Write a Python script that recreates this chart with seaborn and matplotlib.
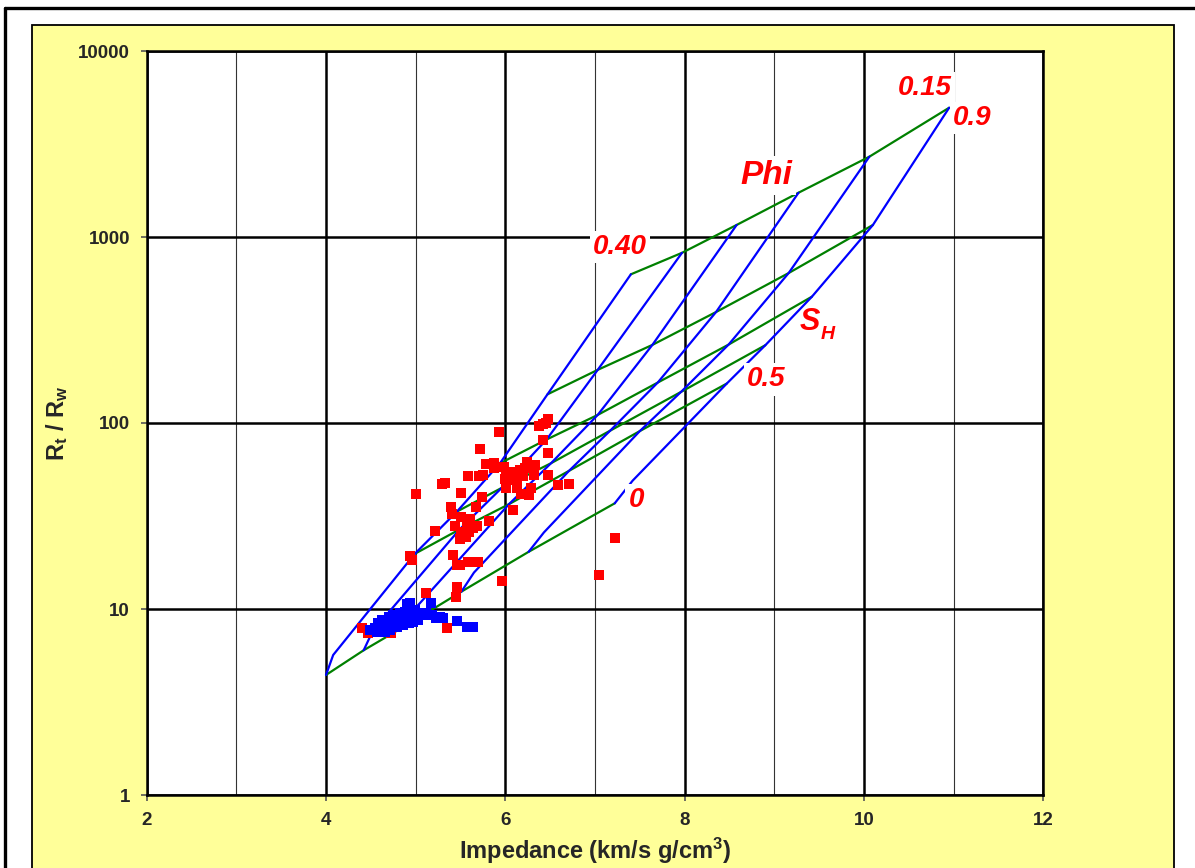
import matplotlib
matplotlib.use("Agg")
import matplotlib.pyplot as plt
from matplotlib.patches import Rectangle
from matplotlib.lines import Line2D
from matplotlib.ticker import FixedLocator, FixedFormatter, NullLocator, MultipleLocator
import pandas as pd
import seaborn as sns

# ---- model grid: porosity (blue) x hydrate saturation (green) ----
phi_values = [0.40, 0.35, 0.30, 0.25, 0.20, 0.15]
sh_rows = [0.0, 0.1, 0.5, 0.6, 0.7, 0.8, 0.9]
sh_curves = [0.0, 0.5, 0.6, 0.7, 0.8, 0.9]

# impedance (km/s g/cm3) at each node, one list per saturation, columns follow phi_values
imp_sh00 = [4.00, 4.42, 4.90, 5.51, 6.26, 7.22]
imp_sh01 = [4.08, 4.52, 5.02, 5.65, 6.43, 7.42]
imp_sh05 = [4.99, 5.49, 6.04, 6.71, 7.50, 8.47]
imp_sh06 = [5.46, 5.96, 6.51, 7.17, 7.96, 8.90]
imp_sh07 = [5.94, 6.46, 7.03, 7.70, 8.49, 9.42]
imp_sh08 = [6.47, 7.03, 7.64, 8.35, 9.16, 10.10]
imp_sh09 = [7.40, 7.97, 8.58, 9.27, 10.06, 10.95]

# Rt/Rw at each node
rr_sh00 = [4.42, 6.0, 8.2, 12.4, 20.3, 37.0]
rr_sh01 = [5.66, 7.6, 10.4, 15.7, 25.8, 49.0]
rr_sh05 = [19.8, 26.8, 36.6, 55.3, 90.5, 163.0]
rr_sh06 = [33.4, 44.8, 60.8, 91.0, 147.0, 262.0]
rr_sh07 = [60.7, 81.5, 110.5, 165.0, 264.0, 478.0]
rr_sh08 = [142.6, 193.0, 263.0, 395.0, 640.0, 1161.0]
rr_sh09 = [630.0, 822.0, 1161.0, 1730.0, 2703.0, 4955.0]

# ---- measured data ----
red_imp = [4.40, 4.47, 4.73, 4.84, 5.35, 4.94, 4.96, 5.00, 5.22, 5.29, 5.33, 5.39, 5.40,
           5.51, 5.44, 5.51, 5.57, 5.61, 5.68, 5.51, 5.59, 5.49, 5.56, 5.64, 5.67, 5.74,
           5.72, 5.58, 5.71, 5.75, 5.78, 5.87, 5.87, 5.82, 5.42, 5.46, 5.49, 5.58, 5.69,
           5.46, 5.45, 5.12, 6.08, 5.96, 5.93, 5.98, 6.01, 6.06, 6.11, 6.16, 6.22, 6.24,
           6.33, 6.32, 6.00, 6.05, 6.13, 6.20, 6.01, 6.13, 6.18, 6.26, 6.29, 6.48, 6.59,
           6.71, 6.42, 6.48, 6.37, 6.42, 6.48, 6.45, 7.22, 7.05]
red_rr = [7.87, 7.40, 7.45, 8.38, 7.87, 19.2, 18.3, 41.4, 26.3, 47.0, 47.3, 35.2, 32.6,
          41.8, 27.9, 31.3, 27.9, 30.5, 27.9, 26.1, 26.1, 23.9, 24.5, 27.1, 35.5, 40.1,
          72.2, 51.6, 51.6, 52.5, 60.0, 60.7, 57.3, 29.6, 19.5, 17.2, 17.2, 17.8, 17.8,
          13.1, 11.6, 12.2, 34.1, 14.1, 89.7, 58.1, 54.6, 52.5, 54.6, 55.9, 57.3, 62.0,
          59.3, 52.5, 50.1, 49.3, 49.3, 51.6, 44.6, 44.6, 41.6, 41.0, 44.6, 52.5, 46.5,
          46.9, 81.5, 68.7, 96.3, 99.3, 105.7, 100.5, 24.0, 15.2]

blue_imp = [4.90, 4.94, 5.17, 5.46, 5.57, 5.64, 5.31, 5.23, 5.18, 4.49, 4.55, 4.60, 4.64,
            4.68, 4.71, 4.75, 4.79, 4.81, 4.86, 4.90, 4.94, 4.97, 5.01, 4.58, 4.62, 4.70,
            4.75, 4.83, 4.88, 4.94, 4.99, 5.05, 5.09, 5.12, 5.27, 4.57, 4.66, 4.71, 4.79,
            4.86, 4.92, 4.97, 5.03]
blue_rr = [10.7, 10.8, 10.8, 8.65, 8.03, 8.03, 9.0, 9.0, 9.27, 7.70, 7.87, 7.63, 8.18,
           7.87, 8.55, 8.18, 8.92, 8.37, 9.10, 8.74, 9.27, 8.92, 9.47, 8.37, 8.74, 9.10,
           9.27, 9.47, 9.67, 9.87, 9.87, 9.47, 9.27, 9.47, 9.10, 7.55, 7.55, 7.70, 8.03,
           8.18, 8.37, 8.55, 8.74]

x_ticks = [2, 4, 6, 8, 10, 12]
x_tick_labels = ["2", "4", "6", "8", "10", "12"]
y_ticks = [1, 10, 100, 1000, 10000]
y_tick_labels = ["1", "10", "100", "1000", "10000"]

# ---- assemble long tables for seaborn ----
imp_rows = [imp_sh00, imp_sh01, imp_sh05, imp_sh06, imp_sh07, imp_sh08, imp_sh09]
rr_rows = [rr_sh00, rr_sh01, rr_sh05, rr_sh06, rr_sh07, rr_sh08, rr_sh09]

records = []
for sh, imps, rrs in zip(sh_rows, imp_rows, rr_rows):
    for phi, imp, rr in zip(phi_values, imps, rrs):
        records.append({"sh": sh, "phi": phi, "imp": imp, "rr": rr})
grid = pd.DataFrame(records)

phi_lines = grid.sort_values(["phi", "sh"]).reset_index(drop=True)
sh_lines = grid[grid["sh"].isin(sh_curves)].sort_values(["sh", "phi"], ascending=[True, False]).reset_index(drop=True)

# ---- styling ----
sns.set_style("white")
plt.rcParams["font.family"] = ["Liberation Sans", "DejaVu Sans"]
plt.rcParams["mathtext.fontset"] = "custom"
plt.rcParams["mathtext.rm"] = "Liberation Sans"
plt.rcParams["mathtext.bf"] = "Liberation Sans:bold"
plt.rcParams["mathtext.it"] = "Liberation Sans:italic"

W, H = 1195, 868
fig = plt.figure(figsize=(W / 100, H / 100), dpi=100)
fig.patch.set_facecolor("white")

# outer frame and yellow chart area
fig.add_artist(Line2D([5 / W, 5 / W], [-0.02, 1 - 8 / H], color="black", lw=2.4,
                      transform=fig.transFigure))
fig.add_artist(Line2D([5 / W, 1.02], [1 - 8 / H, 1 - 8 / H], color="black", lw=2.4,
                      transform=fig.transFigure))
fig.add_artist(Rectangle((32 / W, -0.02), (1174 - 32) / W, 1 - 25 / H + 0.02,
                         facecolor="#FFFF99", edgecolor="black", lw=1.3,
                         transform=fig.transFigure, zorder=0))

left, right, top, bottom = 146.7, 1043.3, 51.0, 795.0
ax = fig.add_axes([left / W, 1 - bottom / H, (right - left) / W, (bottom - top) / H])
ax.set_facecolor("white")

# model curves
sns.lineplot(data=sh_lines, x="imp", y="rr", units="sh", estimator=None, sort=False,
             color="#008000", lw=1.6, ax=ax, legend=False)
sns.lineplot(data=phi_lines, x="imp", y="rr", units="phi", estimator=None, sort=False,
             color="#0000FF", lw=1.6, ax=ax, legend=False)

# measurements
sns.scatterplot(x=red_imp, y=red_rr, marker="s", s=42, color="#FF0000", linewidth=0,
                ax=ax, zorder=4)
sns.scatterplot(x=blue_imp, y=blue_rr, marker="s", s=42, color="#0000FF", linewidth=0,
                ax=ax, zorder=5)

ax.set_yscale("log")
ax.set_xlim(2, 12)
ax.set_ylim(1, 10000)

ax.xaxis.set_major_locator(FixedLocator(x_ticks))
ax.xaxis.set_major_formatter(FixedFormatter(x_tick_labels))
ax.xaxis.set_minor_locator(MultipleLocator(1))
ax.yaxis.set_major_locator(FixedLocator(y_ticks))
ax.yaxis.set_major_formatter(FixedFormatter(y_tick_labels))
ax.yaxis.set_minor_locator(NullLocator())

ax.set_axisbelow(True)
ax.grid(which="major", color="black", lw=1.8)
ax.grid(which="minor", axis="x", color="#333333", lw=0.8)

for s in ax.spines.values():
    s.set_color("black")
    s.set_linewidth(1.8)

ax.tick_params(which="major", direction="out", length=4, width=1.2, color="#555555",
               labelsize=13.5, pad=8, bottom=True, left=True)
ax.tick_params(which="minor", length=0)
for lbl in ax.get_xticklabels() + ax.get_yticklabels():
    lbl.set_fontweight("bold")

ax.set_xlabel(r"Impedance (km/s g/cm$^{\mathbf{3}}$)", fontsize=17, fontweight="bold")
ax.xaxis.set_label_coords(0.5, -0.075)
ax.xaxis.label.set_va("center")
ax.set_ylabel(r"$\mathbf{R_t\ /\ R_w}$", fontsize=17)
ax.yaxis.set_label_coords(-0.1, 0.5)
ax.yaxis.label.set_va("center")

# curve annotations
box = dict(boxstyle="square,pad=0.12", facecolor="white", edgecolor="none")
lab = dict(color="#FF0000", fontweight="bold", fontstyle="italic", ha="center",
           va="center", zorder=6)
ax.text(7.28, 884, "0.40", fontsize=20, bbox=box, **lab)
ax.text(10.68, 6324, "0.15", fontsize=20, bbox=box, **lab)
ax.text(11.21, 4365, "0.9", fontsize=20, bbox=box, **lab)
ax.text(8.91, 2128, "Phi", fontsize=24, bbox=box, **lab)
ax.text(8.91, 172, "0.5", fontsize=20, bbox=box, **lab)
ax.text(7.46, 38.5, "0", fontsize=20, bbox=box, **lab)
ax.text(9.40, 349, "S", fontsize=22, **lab)
ax.text(9.60, 299, "H", fontsize=14, **lab)

fig.savefig("out.png", dpi=100)
